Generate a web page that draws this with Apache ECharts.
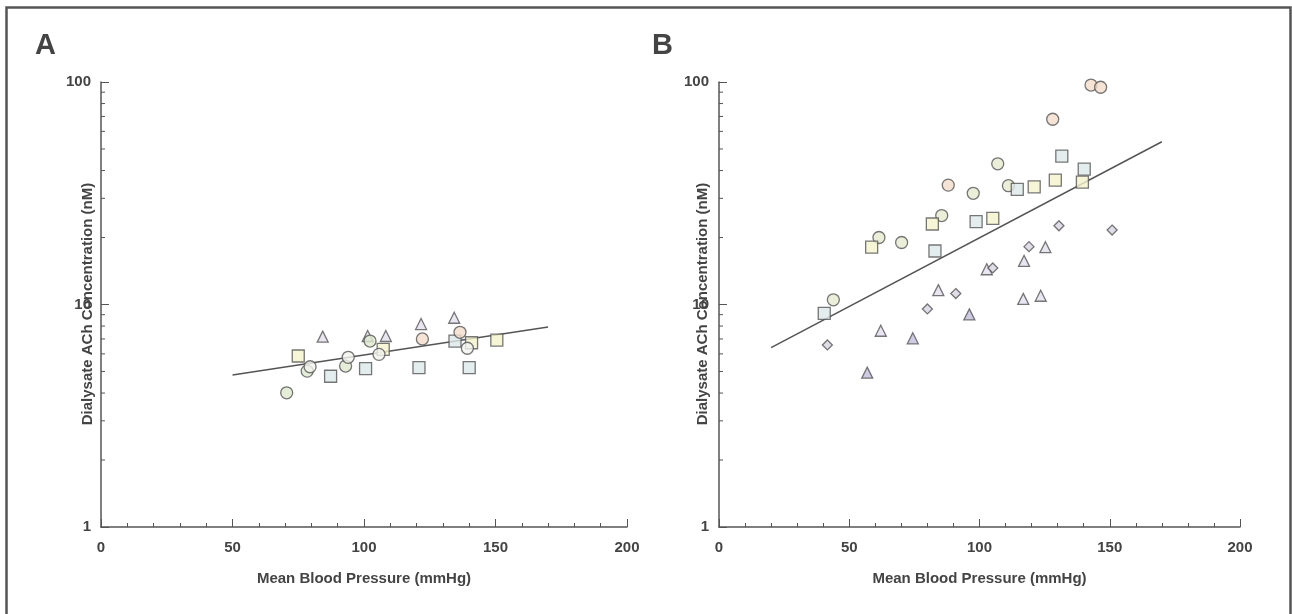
<!DOCTYPE html>
<html>
<head>
<meta charset="utf-8">
<script src="https://cdn.jsdelivr.net/npm/echarts@6/dist/echarts.min.js"></script>
<style>
  html, body { margin: 0; padding: 0; background: #fff; }
  #chart { width: 1292px; height: 614px; }
</style>
</head>
<body>
<div id="chart"></div>
<script>
  // panel A  [pressure, ACh]
  const aTriangles = [[84.3, 7.17], [101.4, 7.22], [108.3, 7.22], [121.7, 8.17], [134.3, 8.72]];
  const aSquaresYellow = [[75.0, 5.87], [107.3, 6.29], [140.9, 6.73], [150.5, 6.92]];
  const aSquaresBlue = [[87.3, 4.76], [100.6, 5.15], [120.9, 5.2], [134.6, 6.85], [140.0, 5.2]];
  const aCirclesGreen = [[70.6, 4.01], [78.4, 5.02], [93.0, 5.29], [102.3, 6.85]];
  const aCirclesWhite = [[79.5, 5.25], [94.0, 5.79], [105.7, 5.97], [139.3, 6.36]];
  const aCirclesPeach = [[122.2, 7.0], [136.5, 7.5]];
  const aFit = [[50, 4.82], [170, 7.92]];

  // panel B
  const bCirclesPeach = [[142.8, 96.9], [146.5, 94.7], [128.1, 68.0], [88.0, 34.4]];
  const bCirclesGreen = [[107.0, 42.9], [111.1, 34.2], [97.6, 31.6], [85.5, 25.1], [61.4, 20.0], [70.1, 19.0], [43.9, 10.5]];
  const bSquaresYellow = [[129.1, 36.2], [121.0, 33.8], [105.1, 24.4], [81.9, 23.0], [58.6, 18.1], [139.5, 35.5]];
  const bSquaresBlue = [[131.6, 46.4], [140.2, 40.6], [114.5, 32.9], [98.7, 23.6], [82.9, 17.4], [40.4, 9.13]];
  const bTriangles = [[125.3, 18.1], [117.1, 15.7], [102.8, 14.4], [84.2, 11.6], [116.8, 10.6], [123.5, 10.95], [62.1, 7.62]];
  const bTrianglesDark = [[96.1, 9.03], [74.4, 7.05], [56.9, 4.94]];
  const bDiamonds = [[130.5, 22.6], [150.9, 21.6], [119.0, 18.2], [105.1, 14.6], [90.9, 11.2], [80.0, 9.55], [41.6, 6.58]];
  const bFit = [[20, 6.4], [170, 53.9]];

  // minor ticks of the log axis (2..9, 20..90)
  const yMinor = [2, 3, 4, 5, 6, 7, 8, 9, 20, 30, 40, 50, 60, 70, 80, 90];

  const axisColor = '#555';
  const textColor = '#444';
  const font = '"Liberation Sans", Arial, sans-serif';

  function xAxisOpt(idx) {
    return {
      gridIndex: idx, type: 'value', min: 0, max: 200, interval: 50,
      name: 'Mean Blood Pressure (mmHg)', nameLocation: 'middle', nameGap: 44,
      nameTextStyle: { color: textColor, fontWeight: 'bold', fontSize: 15, fontFamily: font },
      axisLine: { lineStyle: { color: axisColor, width: 1.5 } },
      axisTick: { inside: true, length: 8, lineStyle: { color: axisColor } },
      minorTick: { show: true, splitNumber: 5, length: 4, lineStyle: { color: axisColor } },
      axisLabel: { color: textColor, fontWeight: 'bold', fontSize: 15, fontFamily: font, margin: 13 },
      splitLine: { show: false }
    };
  }
  function yAxisOpt(idx) {
    return {
      gridIndex: idx, type: 'log', logBase: 10, min: 1, max: 100,
      axisLine: { show: true, lineStyle: { color: axisColor, width: 1.5 } },
      axisTick: { show: true, inside: true, length: 8, lineStyle: { color: axisColor } },
      axisLabel: { color: textColor, fontWeight: 'bold', fontSize: 15, fontFamily: font, margin: 10 },
      splitLine: { show: false }
    };
  }

  function pts(name, data, idx, symbol, size, fill) {
    return {
      name: name, type: 'scatter', xAxisIndex: idx, yAxisIndex: idx,
      data: data, symbol: symbol, symbolSize: size,
      itemStyle: { color: fill, borderColor: '#555', borderWidth: 1.3 },
      z: 3
    };
  }
  function fitLine(data, idx) {
    return {
      type: 'line', xAxisIndex: idx, yAxisIndex: idx, data: data,
      symbol: 'none', lineStyle: { color: '#555', width: 1.5 }, z: 2
    };
  }
  function minorTicks(idx) {
    return {
      type: 'custom', xAxisIndex: idx, yAxisIndex: idx, clip: false, silent: true,
      data: yMinor.map(v => [0, v]),
      renderItem: function (params, api) {
        const p = api.coord([0, api.value(1)]);
        return {
          type: 'line',
          shape: { x1: p[0], y1: p[1], x2: p[0] + 4, y2: p[1] },
          style: { stroke: axisColor, lineWidth: 1 }
        };
      }
    };
  }

  const tri = 'triangle';
  const chart = echarts.init(document.getElementById('chart'));
  chart.setOption({
    backgroundColor: '#fff',
    animation: false,
    grid: [
      { left: 101, right: 665, top: 82, bottom: 87 },
      { left: 719, right: 52, top: 82, bottom: 87 }
    ],
    xAxis: [xAxisOpt(0), xAxisOpt(1)],
    yAxis: [yAxisOpt(0), yAxisOpt(1)],
    graphic: [
      { type: 'rect', left: 4, top: 5, shape: { width: 1284, height: 640 },
        style: { fill: 'none', stroke: '#555', lineWidth: 2.5 } },
      { type: 'text', left: 35, top: 31, style: { text: 'A', fill: textColor, font: 'bold 29px ' + font } },
      { type: 'text', left: 652, top: 31, style: { text: 'B', fill: textColor, font: 'bold 29px ' + font } },
      { type: 'text', x: 88, y: 304, rotation: Math.PI / 2,
        style: { text: 'Dialysate ACh Concentration (nM)', fill: textColor, font: 'bold 15px ' + font,
                 align: 'center', verticalAlign: 'middle' } },
      { type: 'text', x: 703, y: 304, rotation: Math.PI / 2,
        style: { text: 'Dialysate ACh Concentration (nM)', fill: textColor, font: 'bold 15px ' + font,
                 align: 'center', verticalAlign: 'middle' } }
    ],
    series: [
      fitLine(aFit, 0),
      pts('A triangles', aTriangles, 0, tri, 11, '#e4e0ee'),
      pts('A squares yellow', aSquaresYellow, 0, 'rect', 12, '#f4f2cc'),
      pts('A squares blue', aSquaresBlue, 0, 'rect', 12, '#dde9e8'),
      pts('A circles green', aCirclesGreen, 0, 'circle', 12, '#dfe8cf'),
      pts('A circles white', aCirclesWhite, 0, 'circle', 12, '#f2f4ee'),
      pts('A circles peach', aCirclesPeach, 0, 'circle', 12, '#f2dccb'),
      minorTicks(0),

      fitLine(bFit, 1),
      pts('B circles peach', bCirclesPeach, 1, 'circle', 12, '#f2dccb'),
      pts('B circles green', bCirclesGreen, 1, 'circle', 12, '#e6ebcf'),
      pts('B squares yellow', bSquaresYellow, 1, 'rect', 12, '#f4f2cc'),
      pts('B squares blue', bSquaresBlue, 1, 'rect', 12, '#dde9e8'),
      pts('B triangles', bTriangles, 1, tri, 11, '#e4e0ee'),
      pts('B triangles dark', bTrianglesDark, 1, tri, 11, '#c2bedc'),
      pts('B diamonds', bDiamonds, 1, 'diamond', 10, '#d8d4e2'),
      minorTicks(1)
    ]
  });
</script>
</body>
</html>
